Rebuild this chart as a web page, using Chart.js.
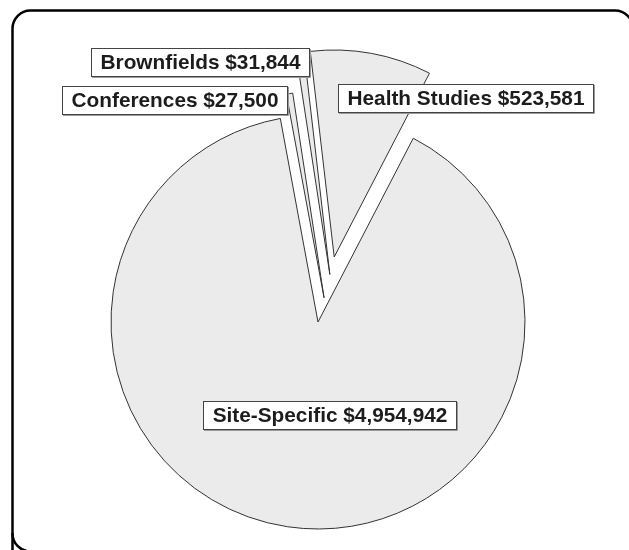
<!DOCTYPE html>
<html><head><meta charset="utf-8">
<script src="https://cdn.jsdelivr.net/npm/chart.js"></script>
<style>html,body{margin:0;padding:0;background:#fff;overflow:hidden;} canvas{display:block;}</style>
</head><body>
<canvas id="c" width="629" height="550"></canvas>
<script>
// ---- data ----
const categories = ['Site-Specific', 'Conferences', 'Brownfields', 'Health Studies'];
const amounts = [4954942, 27500, 31844, 523581];

// ---- styling (not data) ----
const explodePx = [0, 25, 49, 67];       // explosion distance per slice
const explodeDirDeg = 14;                // common explosion direction (deg clockwise from up)
const labelOffsets = [[11, 93], [-144, -222], [-118, -260], [147, -224]]; // label box centre relative to pie centre
const labelFont = 'bold 20.8px "Liberation Sans", Arial, Helvetica, sans-serif';

function fmt(v) { return '$' + v.toLocaleString('en-US'); }

const framePlugin = {
  id: 'frame',
  beforeDraw(chart) {
    const ctx = chart.ctx;
    ctx.save();
    ctx.fillStyle = '#fff';
    ctx.fillRect(0, 0, chart.width, chart.height);
    ctx.lineWidth = 2.5;
    ctx.strokeStyle = '#000';
    ctx.beginPath();
    // right and bottom edges run just past the page, as in the reference
    ctx.moveTo(12.5, 560);
    ctx.lineTo(12.5, 28.5);
    ctx.arcTo(12.5, 10.5, 30.5, 10.5, 18);
    ctx.lineTo(614, 10.5);
    ctx.arcTo(633, 10.5, 633, 29.5, 18);
    ctx.stroke();
    ctx.beginPath();
    ctx.moveTo(12.5, 533);
    ctx.arcTo(12.5, 551.5, 30.5, 551.5, 18);
    ctx.stroke();
    ctx.restore();
  }
};

function applyExplode(chart) {
  const meta = chart.getDatasetMeta(0);
  const ca = chart.chartArea;
  const cx = (ca.left + ca.right) / 2, cy = (ca.top + ca.bottom) / 2;
  const a = explodeDirDeg * Math.PI / 180;
  meta.data.forEach((arc, i) => {
    const d = explodePx[i] || 0;
    arc.x = cx + d * Math.sin(a);
    arc.y = cy - d * Math.cos(a);
  });
}

const explodePlugin = {
  id: 'explode',
  afterDatasetUpdate(chart) { applyExplode(chart); },
  beforeDatasetsDraw(chart) { applyExplode(chart); }
};

const labelPlugin = {
  id: 'boxLabels',
  afterDraw(chart) {
    const ctx = chart.ctx;
    const ca = chart.chartArea;
    const cx = (ca.left + ca.right) / 2, cy = (ca.top + ca.bottom) / 2;
    ctx.save();
    ctx.font = labelFont;
    ctx.textAlign = 'center';
    ctx.textBaseline = 'middle';
    categories.forEach((c, i) => {
      const text = c + ' ' + fmt(amounts[i]);
      const w = Math.round(ctx.measureText(text).width + 18);
      const h = 28;
      const bx = Math.round(cx + labelOffsets[i][0] - w / 2);
      const by = Math.round(cy + labelOffsets[i][1] - h / 2);
      ctx.fillStyle = '#fff';
      ctx.fillRect(bx, by, w, h);
      ctx.strokeStyle = '#9a9a9a';
      ctx.lineWidth = 1;
      ctx.beginPath();
      ctx.moveTo(bx + 1, by + h + 1.5); ctx.lineTo(bx + w + 1.5, by + h + 1.5); ctx.lineTo(bx + w + 1.5, by + 1);
      ctx.stroke();
      ctx.strokeStyle = '#444';
      ctx.strokeRect(bx + 0.5, by + 0.5, w, h);
      ctx.fillStyle = '#1c1c1c';
      ctx.fillText(text, bx + w / 2 + 0.5, by + h / 2 + 1.5);
    });
    ctx.restore();
  }
};

new Chart(document.getElementById('c'), {
  type: 'pie',
  data: {
    labels: categories,
    datasets: [{
      data: amounts,
      backgroundColor: '#ebebeb',
      borderColor: '#333',
      borderWidth: 1,
      borderJoinStyle: 'miter',
      clip: false
    }]
  },
  options: {
    responsive: false,
    animation: false,
    events: [],
    rotation: 27.4,
    radius: 207,
    layout: { padding: { left: 7, right: 0, top: 94, bottom: 0 } },
    plugins: { legend: { display: false }, tooltip: { enabled: false } }
  },
  plugins: [framePlugin, explodePlugin, labelPlugin]
});
</script>
</body></html>
